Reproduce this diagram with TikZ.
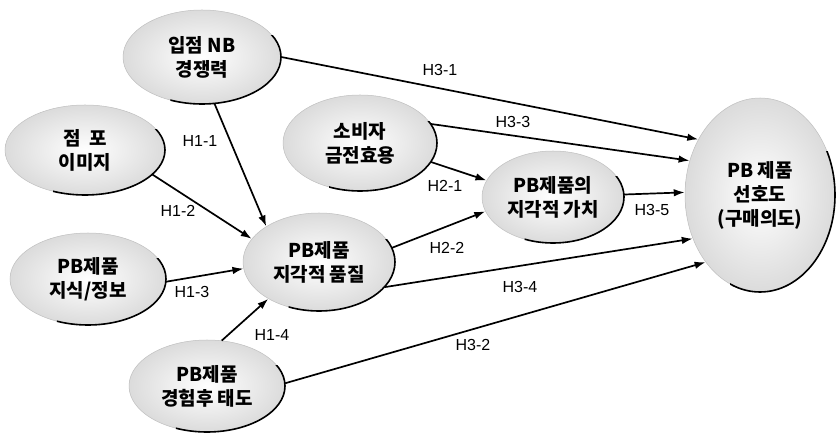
\documentclass[tikz,border=0pt]{standalone}
\usepackage{fontspec}
\setmainfont{Liberation Sans}
\newfontfamily\kr{Noto Sans CJK KR}
\usetikzlibrary{arrows.meta,shapes.geometric}
\tikzset{
  el/.style={ellipse, inner sep=0pt, draw=gray!50, line width=0.5pt,
    shading=radial, inner color=white, outer color=gray!28,
    font=\kr\bfseries\fontsize{19}{24}\selectfont, align=center},
  shadowarc/.style={line width=1.6pt, draw=black},
  arr/.style={line width=1.7pt, -{Latex[length=11pt,width=7.5pt]}},
  lab/.style={font=\fontsize{16}{18}\selectfont, inner sep=1pt}
}
\newcommand\elnode[6]{%
  \node[el, minimum width=#4*2pt, minimum height=#5*2pt] (#1) at (#2,#3) {#6};
  \begin{scope}
    \clip ({#2-0.4*#4},{#3-1.2*#5}) rectangle ({#2+1.2*#4},{#3+0.45*#5});
    \draw[shadowarc] (#1.center) ellipse[x radius=#4, y radius=#5];
  \end{scope}}
\begin{document}
\begin{tikzpicture}[x=1pt,y=1pt]
\useasboundingbox (0,0) rectangle (838,438);
\elnode{nb}{202}{381}{79}{47}{입점 NB\\경쟁력}
\elnode{img}{85}{288}{80}{45}{점\ \ 포\\이미지}
\elnode{util}{360}{295}{77}{48}{소비자\\금전효용}
\elnode{qual}{319}{176}{76}{49}{PB제품\\지각적 품질}
\elnode{know}{88}{159}{78}{46}{PB제품\\지식/정보}
\elnode{att}{207}{52}{78}{46}{PB제품\\경험후 태도}
\elnode{val}{553}{241}{71}{46}{PB제품의\\지각적 가치}
\elnode{pref}{760}{243}{75}{97}{PB 제품\\선호도\\(구매의도)}

\draw[arr] (nb.0) -- (pref.138);
\draw[arr] (nb.-75) -- (qual.146);
\draw[arr] (img.-20) -- (qual.161);
\draw[arr] (know.-2) -- (qual.185);
\draw[arr] (att.72) -- (qual.216);
\draw[arr] (util.15) -- (pref.154);
\draw[arr] (util.-15) -- (val.166);
\draw[arr] (qual.11) -- (val.192);
\draw[arr] (val.2) -- (pref.178);
\draw[arr] (qual.-21) -- (pref.213);
\draw[arr] (att.2) -- (pref.231);

\node[lab] (l31) at (440,368) {H3-1};
\node[lab] (l11) at (200,297) {H1-1};
\node[lab] (l12) at (178,227) {H1-2};
\node[lab] (l13) at (192,146) {H1-3};
\node[lab] (l14) at (272,103) {H1-4};
\node[lab] (l33) at (513,316) {H3-3};
\node[lab] (l21) at (445,252) {H2-1};
\node[lab] (l22) at (447,190) {H2-2};
\node[lab] (l35) at (652,228) {H3-5};
\node[lab] (l34) at (520,151) {H3-4};
\node[lab] (l32) at (473,93) {H3-2};
\end{tikzpicture}
\end{document}
